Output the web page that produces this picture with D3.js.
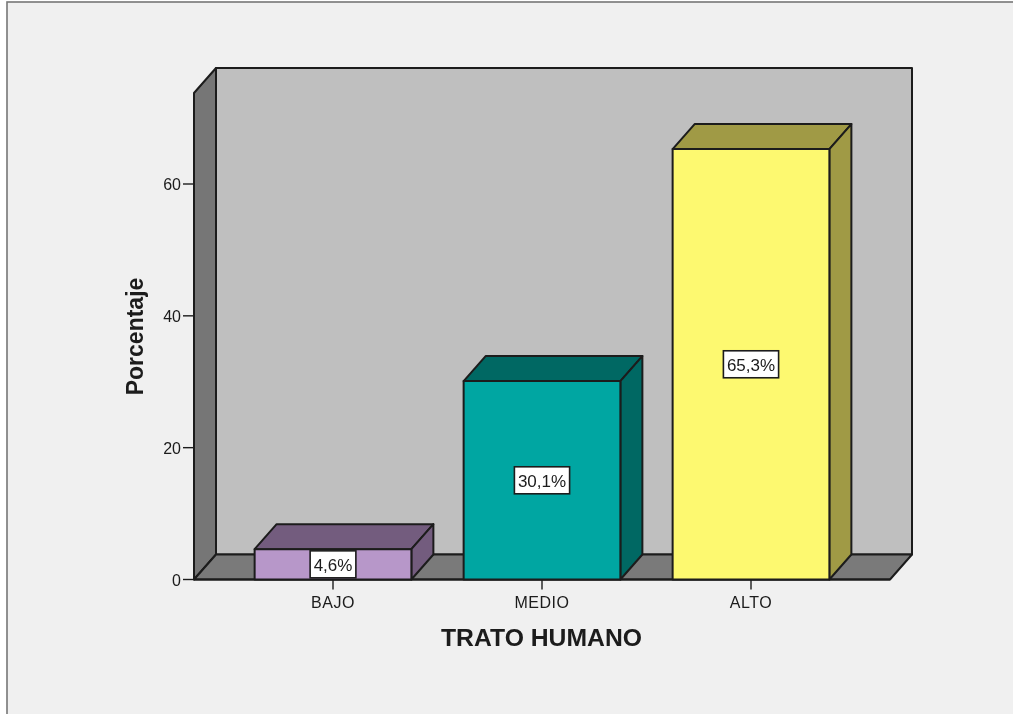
<!DOCTYPE html>
<html><head><meta charset="utf-8">
<script src="https://cdn.jsdelivr.net/npm/d3@7"></script>
<style>
html,body{margin:0;padding:0;background:#fff;}
svg{display:block;}
text{font-family:"Liberation Sans",Arial,sans-serif;fill:#1a1a1a;}
</style></head><body>
<svg id="c" width="1013" height="714">
  <defs><filter id="soft" x="-2%" y="-2%" width="104%" height="104%"><feGaussianBlur stdDeviation="0.45"/></filter></defs>
</svg>
<script>
const categories = ["BAJO","MEDIO","ALTO"];
const values = [4.6,30.1,65.3];
const valueLabels = ["4,6%","30,1%","65,3%"];
const frontColors = ["#b797c9","#00a6a2","#fdf96f"];
const darkColors = ["#735c7e","#006863","#a09a44"];
const yTicks = [0,20,40,60];
const xTitle = "TRATO HUMANO";
const yTitle = "Porcentaje";

const svg = d3.select("#c");
const W=1013,H=714;
const dx=22, dy=-25;
const left=194, right=890;
const y = d3.scaleLinear().domain([0,60]).range([579.5,184]);
const x = d3.scaleBand().domain(categories).range([228.5,855.5]).paddingInner(0.25).paddingOuter(0.125);
const y0=y(0), yTop=93;
const line="#1c1c1c";

const root = svg.append("g").attr("filter","url(#soft)");
// panel
root.append("rect").attr("x",7).attr("y",2).attr("width",W).attr("height",H)
  .attr("fill","#f0f0f0").attr("stroke","#777").attr("stroke-width",1.6);

const poly=(pts,fill,sw=2)=>root.append("polygon")
  .attr("points",pts.map(p=>p.join(",")).join(" "))
  .attr("fill",fill).attr("stroke",line).attr("stroke-width",sw).attr("stroke-linejoin","round");

// back wall, left wall, floor
poly([[left+dx,yTop+dy],[right+dx,yTop+dy],[right+dx,y0+dy],[left+dx,y0+dy]],"#bfbfbf");
poly([[left,yTop],[left+dx,yTop+dy],[left+dx,y0+dy],[left,y0]],"#767676");
poly([[left,y0],[left+dx,y0+dy],[right+dx,y0+dy],[right,y0]],"#7a7a7a");

// y axis
const yg=root.append("g");
yTicks.forEach(t=>{
  yg.append("line").attr("x1",left-11).attr("x2",left).attr("y1",y(t)).attr("y2",y(t)).attr("stroke",line).attr("stroke-width",1.4);
  yg.append("text").attr("x",left-13).attr("y",y(t)+6).attr("text-anchor","end").attr("font-size",16).text(t);
});
root.append("line").attr("x1",left).attr("x2",right).attr("y1",y0).attr("y2",y0).attr("stroke",line).attr("stroke-width",2);

// bars
categories.forEach((c,i)=>{
  const bx=x(c), bw=x.bandwidth(), by=y(values[i]);
  poly([[bx,by],[bx+dx,by+dy],[bx+bw+dx,by+dy],[bx+bw,by]],darkColors[i]);
  poly([[bx+bw,by],[bx+bw+dx,by+dy],[bx+bw+dx,y0+dy],[bx+bw,y0]],darkColors[i]);
  poly([[bx,by],[bx+bw,by],[bx+bw,y0],[bx,y0]],frontColors[i]);
  const cx=bx+bw/2;
  root.append("line").attr("x1",cx).attr("x2",cx).attr("y1",y0).attr("y2",y0+10).attr("stroke",line).attr("stroke-width",1.4);
  root.append("text").attr("x",cx).attr("y",y0+28).attr("text-anchor","middle").attr("font-size",16).attr("letter-spacing",0.5).text(c);
});

// value labels
categories.forEach((c,i)=>{
  const cx=x(c)+x.bandwidth()/2, cy=y(values[i]/2);
  const g=root.append("g");
  const r=g.append("rect").attr("fill","#fff").attr("stroke",line).attr("stroke-width",1.6);
  const t=g.append("text").attr("x",cx).attr("y",cy+6.5).attr("text-anchor","middle").attr("font-size",17).text(valueLabels[i]);
  const w=t.node().getComputedTextLength()+7;
  r.attr("x",cx-w/2).attr("width",w).attr("y",cy-13.5).attr("height",27);
});

// titles
root.append("text").attr("x",541.5).attr("y",646).attr("text-anchor","middle").attr("font-size",23).attr("font-weight","bold")
  .attr("textLength",201).attr("lengthAdjust","spacingAndGlyphs").text(xTitle);
root.append("text").attr("transform","translate(143,336.5) rotate(-90)").attr("text-anchor","middle").attr("font-size",23).attr("font-weight","bold").text(yTitle);
</script>
</body></html>
